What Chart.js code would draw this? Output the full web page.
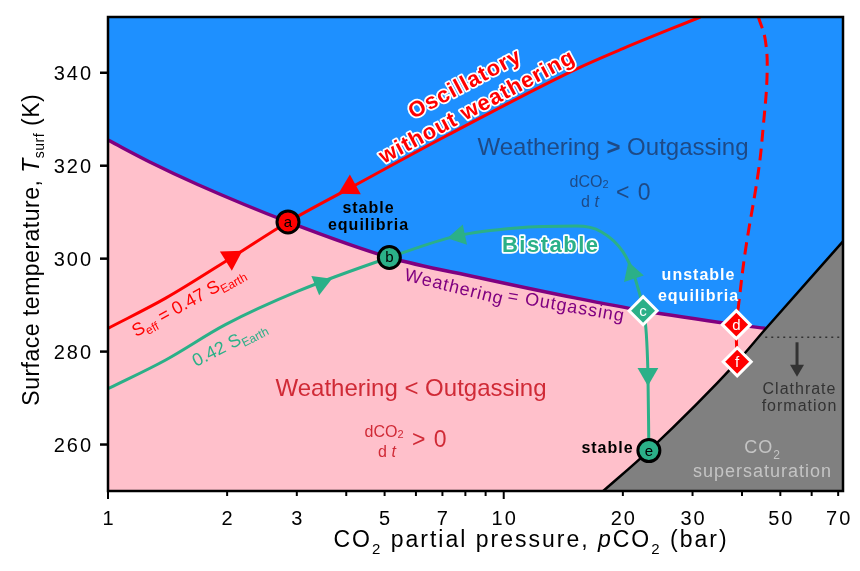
<!DOCTYPE html>
<html>
<head>
<meta charset="utf-8">
<script src="https://cdn.jsdelivr.net/npm/chart.js@4.4.1/dist/chart.umd.min.js"></script>
<style>
  html, body { margin: 0; padding: 0; background: #fff; }
</style>
</head>
<body>
<canvas id="chart" width="860" height="571"></canvas>
<script>
// ejes: presion parcial de CO2 (bar) y temperatura superficial (K)
const xTickValues = [1, 2, 3, 4, 5, 6, 7, 8, 9, 10, 20, 30, 40, 50, 60, 70];
const xTickLabels = [1, 2, 3, 5, 7, 10, 20, 30, 50, 70];
const yTickValues = [260, 280, 300, 320, 340];

// Weathering = Outgassing
const balanceP = [1, 1.275, 1.69, 2.85, 5.14, 8.55, 15.25, 22.5, 38.7, 45.8];
const balanceT = [325.5, 320.8, 315.9, 307.9, 300.25, 296.0, 291.5, 288.8, 285.8, 285.0];

// limite de sobresaturacion de CO2
const satP = [17.84, 23.27, 38.9, 45.8, 72];
const satT = [250, 258.7, 277.8, 284.8, 303.7];

// Seff = 0.47 S_Earth
const path47P = [1, 1.399, 2.05, 2.85, 4.15, 7.19, 15.25, 20.0, 31.4];
const path47T = [285.0, 291.5, 300.2, 307.9, 315.5, 326.5, 340.8, 345.2, 352];
const path47DashP = [44.0, 45.8, 46.3, 45.3, 44.0, 40.8, 39.2, 38.7, 38.9];
const path47DashT = [352, 347.1, 339.9, 328.7, 318.7, 301.7, 289.9, 285.8, 277.8];

// 0.42 S_Earth
const path42P = [1, 1.399, 1.98, 3.02, 5.14, 7.62, 10.78, 15.25, 17.63, 20.0, 21.34, 22.5, 23.14, 23.27];
const path42T = [272.0, 278.2, 285.8, 293.0, 300.25, 304.9, 306.6, 307.0, 305.8, 301.5, 296.4, 288.8, 275.6, 258.7];

// equilibrios
const eqNames = ['a', 'b', 'c', 'd', 'e', 'f'];
const eqP = [2.85, 5.14, 22.5, 38.7, 23.27, 38.9];
const eqT = [307.9, 300.25, 288.8, 285.8, 258.7, 277.8];

// flechas sobre las trayectorias
const arrow47P = [2.05, 4.08];
const arrow47T = [300.2, 315.3];
const arrow42P = [3.45, 7.71, 21.1, 23.14];
const arrow42T = [294.7, 304.9, 296.9, 275.2];

// nivel de formacion de clatratos
const clathrateP = [45.8, 72];
const clathrateT = [283.1, 283.1];

const RED = '#ff0000';
const GREEN = '#2bb088';
const PURPLE = '#800080';
const BLUE = '#1e90ff';
const PINK = '#ffc0cb';
const GRAY = '#808080';
const NAVY = '#1e4a86';
const CRIMSON = '#d02a36';
const FONT = '"Liberation Sans", Arial, Helvetica, sans-serif';

const xy = (ps, ts) => ps.map((p, i) => ({ x: p, y: ts[i] }));

// texto con subindices, cursiva, rotacion y contorno
function drawRich(ctx, parts, x, y, o) {
    o = o || {};
    ctx.save();
    ctx.translate(x, y);
    if (o.rot) ctx.rotate(o.rot * Math.PI / 180);
    ctx.letterSpacing = (o.ls || 0) + 'px';
    ctx.textBaseline = 'alphabetic';
    ctx.textAlign = 'left';
    const items = parts.map(([t, size, s]) => {
        s = s || {};
        const font = (s.italic ? 'italic ' : '') + (s.bold || o.bold ? 'bold ' : '') + size + 'px ' + FONT;
        ctx.font = font;
        return { t, font, dy: s.dy || 0, w: ctx.measureText(t).width };
    });
    const total = items.reduce((a, it) => a + it.w, 0) - (o.ls || 0);
    const start = o.align === 'left' ? 0 : o.align === 'right' ? -total : -total / 2;
    const y0 = o.oy || 0;
    const passes = o.stroke ? ['stroke', 'fill'] : ['fill'];
    passes.forEach(pass => {
        let px = start;
        items.forEach(it => {
            ctx.font = it.font;
            if (pass === 'stroke') {
                ctx.strokeStyle = o.stroke;
                ctx.lineWidth = o.sw || 3;
                ctx.lineJoin = 'round';
                ctx.strokeText(it.t, px, y0 + it.dy);
            } else {
                ctx.fillStyle = o.color || '#000';
                ctx.fillText(it.t, px, y0 + it.dy);
            }
            px += it.w;
        });
    });
    ctx.restore();
}

// etiquetas dentro del grafico
const notes = [
    { p: [['Oscillatory', 22]], x: 470, y: 94.5, rot: -28, oy: -5, bold: 1, ls: 1, color: RED, stroke: '#fff', sw: 3.5 },
    { p: [['without weathering', 22]], x: 470, y: 94.5, rot: -28, oy: 21, bold: 1, ls: 1, color: RED, stroke: '#fff', sw: 3.5 },
    { p: [['Weathering ', 24], ['>', 24, { bold: 1 }], [' Outgassing', 24]], x: 613, y: 155, color: NAVY },
    { p: [['dCO', 16], ['2', 11, { dy: 1 }]], x: 589, y: 187, color: NAVY },
    { p: [['d ', 16], ['t', 16, { italic: 1 }]], x: 590, y: 207, color: NAVY },
    { p: [['< 0', 23]], x: 616, y: 200, align: 'left', ls: 1, color: NAVY },
    { p: [['stable', 16]], x: 368, y: 213, bold: 1, ls: 1, color: '#000' },
    { p: [['equilibria', 16]], x: 368, y: 230, bold: 1, ls: 1, color: '#000' },
    { p: [['Bistable', 22]], x: 550, y: 252, bold: 1, ls: 1.5, color: GREEN, stroke: '#fff', sw: 3.5 },
    { p: [['Weathering', 18]], x: 454, y: 286, rot: 14, oy: 6.5, ls: 1, color: PURPLE },
    { p: [['= Outgassing', 18]], x: 566, y: 305, rot: 10, oy: 6.5, ls: 1, color: PURPLE },
    { p: [['unstable', 16]], x: 698, y: 280, bold: 1, ls: 1, color: '#fff' },
    { p: [['equilibria', 16]], x: 698, y: 301, bold: 1, ls: 1, color: '#fff' },
    { p: [['S', 18], ['eff', 12, { dy: 4 }], [' = 0.47 S', 18], ['Earth', 12, { dy: 4 }]], x: 188, y: 301, rot: -29, oy: 6.5, color: RED },
    { p: [['0.42 S', 18], ['Earth', 12, { dy: 4 }]], x: 229, y: 343, rot: -27, oy: 6.5, color: GREEN },
    { p: [['Weathering ', 24], ['<', 24], [' Outgassing', 24]], x: 411, y: 396, color: CRIMSON },
    { p: [['dCO', 16], ['2', 11, { dy: 1 }]], x: 384, y: 437, color: CRIMSON },
    { p: [['d ', 16], ['t', 16, { italic: 1 }]], x: 387, y: 457, color: CRIMSON },
    { p: [['> 0', 23]], x: 412, y: 447, align: 'left', ls: 1, color: CRIMSON },
    { p: [['stable', 16]], x: 607, y: 453, bold: 1, ls: 1, color: '#000' },
    { p: [['Clathrate', 16]], x: 799, y: 394, ls: 1, color: '#333' },
    { p: [['formation', 16]], x: 799, y: 411, ls: 1, color: '#333' },
    { p: [['CO', 18], ['2', 12, { dy: 6 }]], x: 762, y: 453, ls: 1, color: '#c4c4c4' },
    { p: [['supersaturation', 18]], x: 762, y: 477, ls: 1, color: '#c4c4c4' }
];

const eqTextColor = ['#000', '#000', '#fff', '#fff', '#000', '#fff'];

const decor = {
    id: 'decor',
    beforeDatasetsDraw(chart) {
        const { ctx, chartArea: a } = chart;
        ctx.save();
        ctx.fillStyle = BLUE;
        ctx.fillRect(a.left, a.top, a.right - a.left, a.bottom - a.top);
        ctx.restore();
    },
    afterDatasetsDraw(chart) {
        const ctx = chart.ctx;
        const xs = chart.scales.x, ys = chart.scales.y;
        // letras de los equilibrios
        eqNames.forEach((n, i) => {
            drawRich(ctx, [[n, 15]], xs.getPixelForValue(eqP[i]), ys.getPixelForValue(eqT[i]) + 5, { color: eqTextColor[i] });
        });
        // flecha de clatratos
        const ax = xs.getPixelForValue(55.1);
        const ay0 = ys.getPixelForValue(282), ay1 = ys.getPixelForValue(274.6);
        ctx.save();
        ctx.strokeStyle = '#333';
        ctx.fillStyle = '#333';
        ctx.lineWidth = 3;
        ctx.beginPath();
        ctx.moveTo(ax, ay0);
        ctx.lineTo(ax, ay1 - 10);
        ctx.stroke();
        ctx.beginPath();
        ctx.moveTo(ax - 7, ay1 - 12);
        ctx.lineTo(ax + 7, ay1 - 12);
        ctx.lineTo(ax, ay1);
        ctx.closePath();
        ctx.fill();
        ctx.restore();
        notes.forEach(n => drawRich(ctx, n.p, n.x, n.y, n));
    },
    afterDraw(chart) {
        const { ctx, chartArea: a } = chart;
        const xs = chart.scales.x, ys = chart.scales.y;
        ctx.save();
        ctx.strokeStyle = '#000';
        ctx.lineWidth = 2.5;
        ctx.strokeRect(a.left, a.top, a.right - a.left, a.bottom - a.top);
        // marcas del eje x
        ctx.lineWidth = 2;
        xTickValues.forEach(v => {
            const px = xs.getPixelForValue(v);
            const len = (v === 1 || v === 10) ? 8 : 5;
            ctx.beginPath();
            ctx.moveTo(px, a.bottom);
            ctx.lineTo(px, a.bottom + len);
            ctx.stroke();
        });
        ctx.lineWidth = 2.5;
        yTickValues.forEach(v => {
            const py = ys.getPixelForValue(v);
            ctx.beginPath();
            ctx.moveTo(a.left - 8, py);
            ctx.lineTo(a.left, py);
            ctx.stroke();
        });
        ctx.restore();
        xTickLabels.forEach(v => {
            drawRich(ctx, [[String(v), 20]], xs.getPixelForValue(v), 525, { ls: 2, color: '#000' });
        });
        yTickValues.forEach(v => {
            drawRich(ctx, [[String(v), 20]], a.left - 17, ys.getPixelForValue(v) + 7, { ls: 2, align: 'right', color: '#000' });
        });
        // titulos de los ejes
        drawRich(ctx, [['CO', 23], ['2', 15, { dy: 7 }], [' partial pressure, ', 23], ['p', 23, { italic: 1 }], ['CO', 23], ['2', 15, { dy: 7 }], [' (bar)', 23]],
            530, 547, { ls: 2, color: '#000' });
        drawRich(ctx, [['Surface temperature, ', 23], ['T', 23, { italic: 1 }], ['surf', 14, { dy: 5 }], [' (K)', 23]],
            39, 250, { rot: -90, ls: 0.5, color: '#000' });
    }
};

new Chart(document.getElementById('chart'), {
    type: 'line',
    data: {
        datasets: [
            {
                data: xy(eqP, eqT), showLine: false, order: 0,
                pointStyle: ['circle', 'circle', 'rectRot', 'rectRot', 'circle', 'rectRot'],
                pointRadius: [11, 11, 14, 14, 11, 14],
                pointBackgroundColor: [RED, GREEN, GREEN, RED, GREEN, RED],
                pointBorderColor: ['#000', '#000', '#fff', '#fff', '#000', '#fff'],
                pointBorderWidth: 3
            },
            {
                data: xy(arrow47P, arrow47T), showLine: false, order: 1,
                pointStyle: 'triangle', pointRotation: [58, 241], pointRadius: 13,
                pointBackgroundColor: RED, pointBorderWidth: 0
            },
            {
                data: xy(arrow42P, arrow42T), showLine: false, order: 1,
                pointStyle: 'triangle', pointRotation: [68, 258, -18, 180], pointRadius: 12,
                pointBackgroundColor: GREEN, pointBorderWidth: 0
            },
            {
                data: xy(path47DashP, path47DashT), order: 2, borderColor: RED, borderWidth: 3,
                borderDash: [12, 7], tension: 0.4, pointRadius: 0, fill: false
            },
            {
                data: xy(path47P, path47T), order: 2, borderColor: RED, borderWidth: 3,
                cubicInterpolationMode: 'monotone', pointRadius: 0, fill: false
            },
            {
                data: xy(path42P, path42T), order: 2, borderColor: GREEN, borderWidth: 3,
                cubicInterpolationMode: 'monotone', pointRadius: 0, fill: false
            },
            {
                data: xy(clathrateP, clathrateT), order: 3, borderColor: '#333', borderWidth: 1.5,
                borderDash: [2, 4], pointRadius: 0, fill: false
            },
            {
                data: xy(satP, satT), order: 4, borderColor: '#000', borderWidth: 2.5,
                backgroundColor: GRAY, fill: 'start', cubicInterpolationMode: 'monotone', pointRadius: 0
            },
            {
                data: xy(balanceP, balanceT), order: 5, borderColor: PURPLE, borderWidth: 3.5,
                backgroundColor: PINK, fill: 'start', cubicInterpolationMode: 'monotone', pointRadius: 0
            }
        ]
    },
    options: {
        responsive: false,
        animation: false,
        events: [],
        layout: { padding: { left: 0, top: 10, right: 12, bottom: 0 } },
        plugins: { legend: { display: false }, tooltip: { enabled: false } },
        scales: {
            x: {
                type: 'logarithmic', min: 1, max: 72,
                ticks: { display: false }, grid: { display: false }, border: { display: false },
                afterFit(scale) { scale.height = 80; }
            },
            y: {
                type: 'linear', min: 250, max: 352,
                ticks: { display: false }, grid: { display: false }, border: { display: false },
                afterFit(scale) { scale.width = 108; }
            }
        }
    },
    plugins: [decor]
});
</script>
</body>
</html>
